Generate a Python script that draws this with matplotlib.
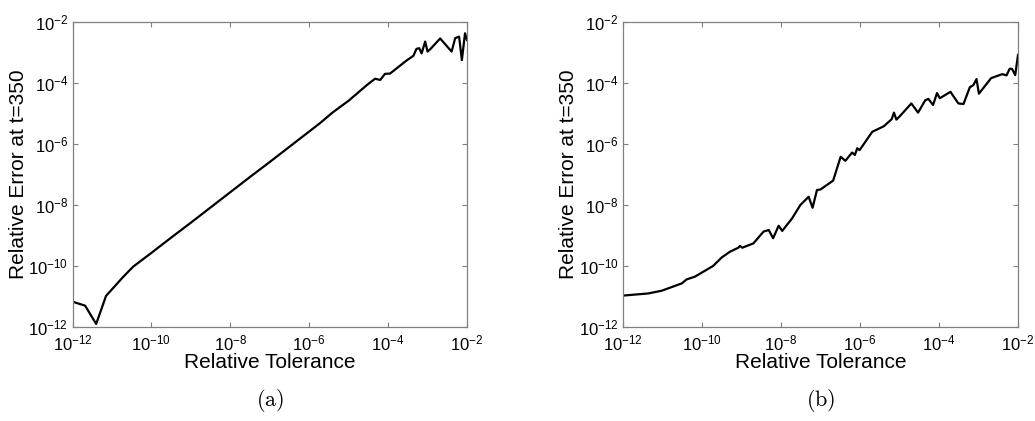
import numpy as np
import matplotlib
matplotlib.use('Agg')
import matplotlib.pyplot as plt
from matplotlib.ticker import LogLocator, LogFormatterSciNotation, NullLocator

# log10 of relative tolerance / relative error at t=350, panel (a)
tol_a_exp = [-12.0, -11.68, -11.40, -11.15, -10.71, -10.59, -10.46, -10.0, -9.5, -9.0,
             -8.5, -8.0, -7.5, -7.0, -6.5, -6.0, -5.73, -5.39, -5.0, -4.54,
             -4.33, -4.20, -4.08, -3.95, -3.53, -3.36, -3.28, -3.21, -3.15, -3.06,
             -3.00, -2.93, -2.68, -2.39, -2.30, -2.20, -2.13, -2.05, -2.0]
err_a_exp = [-11.17, -11.30, -11.90, -10.98, -10.35, -10.19, -10.02, -9.57, -9.07, -8.58,
             -8.08, -7.58, -7.08, -6.59, -6.09, -5.59, -5.32, -4.95, -4.58, -4.07,
             -3.86, -3.90, -3.70, -3.69, -3.26, -3.11, -2.88, -2.86, -3.03, -2.64,
             -2.97, -2.89, -2.54, -2.97, -2.53, -2.48, -3.25, -2.37, -2.59]

# panel (b)
tol_b_exp = [-12.0, -11.36, -11.02, -10.51, -10.39, -10.18, -9.97, -9.72, -9.50, -9.29,
             -9.08, -9.04, -8.98, -8.70, -8.44, -8.31, -8.20, -8.06, -7.97, -7.72,
             -7.51, -7.30, -7.20, -7.09, -7.00, -6.68, -6.59, -6.49, -6.37, -6.20,
             -6.13, -6.07, -6.01, -5.69, -5.40, -5.20, -5.14, -5.08, -5.00, -4.70,
             -4.53, -4.35, -4.27, -4.15, -4.05, -3.98, -3.71, -3.51, -3.38, -3.22,
             -3.13, -3.05, -2.99, -2.68, -2.40, -2.29, -2.21, -2.15, -2.07, -2.0]
err_b_exp = [-10.97, -10.90, -10.81, -10.57, -10.44, -10.35, -10.19, -10.0, -9.72, -9.53,
             -9.40, -9.34, -9.40, -9.26, -8.87, -8.82, -9.09, -8.68, -8.85, -8.44,
             -8.0, -7.73, -8.09, -7.51, -7.49, -7.20, -6.83, -6.42, -6.55, -6.28,
             -6.36, -6.14, -6.20, -5.60, -5.42, -5.19, -4.97, -5.20, -5.10, -4.67,
             -4.97, -4.57, -4.52, -4.72, -4.33, -4.50, -4.29, -4.67, -4.69, -4.14,
             -4.07, -3.87, -4.35, -3.84, -3.71, -3.75, -3.53, -3.54, -3.74, -3.08]

captions = ['(a)', '(b)']

plt.rcParams['font.family'] = ['Liberation Sans', 'DejaVu Sans']
plt.rcParams['mathtext.fontset'] = 'custom'
plt.rcParams['mathtext.rm'] = 'Liberation Sans'
plt.rcParams['mathtext.it'] = 'Liberation Sans'

fig = plt.figure(figsize=(10.35, 4.21), dpi=100)
W, H = 1035., 421.
boxes = [(72.5, 22, 467, 327), (623, 22, 1018, 327)]
panels = [(tol_a_exp, err_a_exp), (tol_b_exp, err_b_exp)]

for (x0, y0, x1, y1), (tx, ey), cap in zip(boxes, panels, captions):
    ax = fig.add_axes([x0/W, 1 - y1/H, (x1 - x0)/W, (y1 - y0)/H])
    ax.loglog(10.0**np.array(tx), 10.0**np.array(ey), color='black', lw=1.6)
    ax.set_xlim(1e-12, 1e-2)
    ax.set_ylim(1e-12, 1e-2)
    for axis in (ax.xaxis, ax.yaxis):
        axis.set_major_locator(LogLocator(base=100.0))
        axis.set_major_formatter(LogFormatterSciNotation(base=10.0))
        axis.set_minor_locator(NullLocator())
    for sp in ax.spines.values():
        sp.set_color('0.5')
        sp.set_linewidth(0.9)
    ax.tick_params(which='major', direction='in', length=3.5, width=0.8, color='0.5',
                   top=True, right=True, labelsize=12, pad=3)
    ax.tick_params(axis='x', pad=5)
    ax.set_xlabel('Relative Tolerance', fontsize=15, va='center')
    ax.set_ylabel('Relative Error at t=350', fontsize=15, va='center')
    ax.xaxis.set_label_coords(0.5, (327 - 362) / 305)
    ax.yaxis.set_label_coords((18.5 - 72.5) / 395, 0.5)
    fig.text((x0 + x1)/2/W, 1 - 401/H, r'$\mathrm{' + cap + '}$', math_fontfamily='cm',
             fontsize=16, ha='center', va='center')

fig.savefig('out.png', dpi=100)
